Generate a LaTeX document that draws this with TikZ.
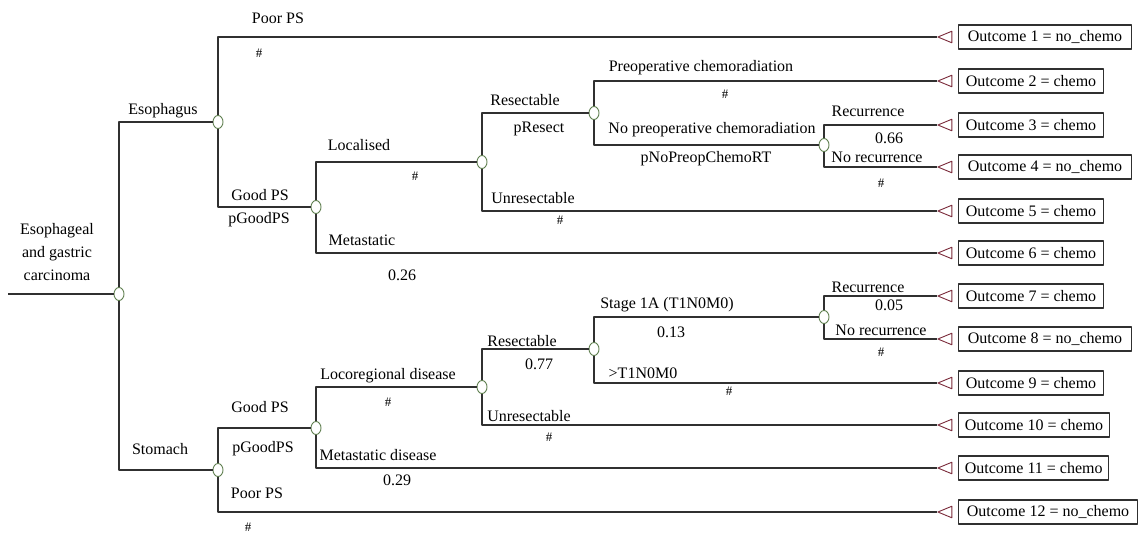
\documentclass[tikz,border=0pt]{standalone}
\usepackage{fontspec}
\setmainfont{Liberation Serif}
\usetikzlibrary{positioning,shapes.geometric}
\definecolor{chancegreen}{HTML}{5F7F4F}
\definecolor{termred}{HTML}{7A2A3A}
\definecolor{branchgray}{HTML}{303030}
\tikzset{
	chance/.style={ellipse,draw=chancegreen,fill=white,line width=0.9pt,minimum width=10pt,minimum height=13pt,inner sep=0pt},
	term/.style={isosceles triangle,shape border rotate=180,isosceles triangle apex angle=45,draw=termred,fill=white,line width=0.9pt,minimum height=14pt,inner sep=0pt},
	outbox/.style={draw=branchgray,line width=1.1pt,minimum height=24pt,inner ysep=0pt},
	lab/.style={inner sep=0pt},
	hash/.style={inner sep=0pt,font=\fontsize{13}{13}\selectfont},
	branch/.style={draw=branchgray,line width=1.2pt}
}
\begin{document}
\begin{tikzpicture}[x=1pt,y=-1pt,line join=round,font=\fontsize{16}{23}\selectfont]
	\useasboundingbox (0,0) rectangle (1140,533);
	\coordinate (start) at (8,294);
	\node[chance] (root) at (119,294) {};
	\node[lab,align=center] (rootlab) at (57,252) {Esophageal\\and gastric\\carcinoma};
	\foreach \i/\y/\res/\pad in {1/37/no\_chemo/9pt,2/81/chemo/7pt,3/125/chemo/7pt,4/167/no\_chemo/9pt,
		5/211/chemo/7pt,6/253/chemo/7pt,7/296/chemo/7pt,8/339/no\_chemo/9pt,
		9/383/chemo/7pt,10/425/chemo/6pt,11/468/chemo/6pt,12/512/no\_chemo/8pt}{
		\node[term] (t\i) at (948,\y) {};
		\node[outbox,inner xsep=\pad,right=6pt of t\i] (o\i) {Outcome \i{} = \res};
	}
	\begin{scope}
		\node[chance] (eso) at (218,122) {};
		\node[chance] (egood) at (316,207) {};
		\node[chance] (eloc) at (482,162) {};
		\node[chance] (eres) at (594,113) {};
		\node[chance] (erec) at (824,145) {};
		\draw[branch] (root) |- (eso);
		\draw[branch] (eso) |- (t1);
		\draw[branch] (eso) |- (egood);
		\draw[branch] (egood) |- (eloc);
		\draw[branch] (egood) |- (t6);
		\draw[branch] (eloc) |- (eres);
		\draw[branch] (eloc) |- (t5);
		\draw[branch] (eres) |- (t2);
		\draw[branch] (eres) |- (erec);
		\draw[branch] (erec) |- (t3);
		\draw[branch] (erec) |- (t4);
		\node[lab] (esolab) at (163,111) {Esophagus};
		\node[lab] (epoorlab) at (278,18) {Poor PS};
		\node[hash] (epoorp) at (259,53) {\#};
		\node[lab] (egoodlab) at (260,195) {Good PS};
		\node[lab] (egoodp) at (259,220) {pGoodPS};
		\node[lab] (eloclab) at (359,145) {Localised};
		\node[hash] (elocp) at (415,176) {\#};
		\node[lab] (emetlab) at (362,240) {Metastatic};
		\node[lab] (emetp) at (402,275) {0.26};
		\node[lab] (ereslab) at (525,100) {Resectable};
		\node[lab] (eresp) at (539,129) {pResect};
		\node[lab] (eunreslab) at (533,198) {Unresectable};
		\node[hash] (eunresp) at (560,220) {\#};
		\node[lab] (epreoplab) at (701,68) {Preoperative chemoradiation};
		\node[hash] (epreopp) at (725,94) {\#};
		\node[lab] (enopreoplab) at (712,130) {No preoperative chemoradiation};
		\node[lab] (enopreopp) at (706,159) {pNoPreopChemoRT};
		\node[lab] (ereclab) at (868,111) {Recurrence};
		\node[lab] (erecp) at (889,138) {0.66};
		\node[lab] (enoreclab) at (877,157) {No recurrence};
		\node[hash] (enorecp) at (881,183) {\#};
	\end{scope}
	\begin{scope}
		\node[chance] (sto) at (218,470) {};
		\node[chance] (sgood) at (316,428) {};
		\node[chance] (sloc) at (482,387) {};
		\node[chance] (sres) at (594,349) {};
		\node[chance] (srec) at (824,317) {};
		\draw[branch] (root) |- (sto);
		\draw[branch] (sto) |- (sgood);
		\draw[branch] (sto) |- (t12);
		\draw[branch] (sgood) |- (sloc);
		\draw[branch] (sgood) |- (t11);
		\draw[branch] (sloc) |- (sres);
		\draw[branch] (sloc) |- (t10);
		\draw[branch] (sres) |- (srec);
		\draw[branch] (sres) |- (t9);
		\draw[branch] (srec) |- (t7);
		\draw[branch] (srec) |- (t8);
		\node[lab] (stolab) at (160,449) {Stomach};
		\node[lab] (sgoodlab) at (260,407) {Good PS};
		\node[lab] (sgoodp) at (263,449) {pGoodPS};
		\node[lab] (spoorlab) at (257,493) {Poor PS};
		\node[hash] (spoorp) at (248,527) {\#};
		\node[lab] (sloclab) at (388,376) {Locoregional disease};
		\node[hash] (slocp) at (388,402) {\#};
		\node[lab] (smetlab) at (378,455) {Metastatic disease};
		\node[lab] (smetp) at (397,480) {0.29};
		\node[lab] (sreslab) at (522,341) {Resectable};
		\node[lab] (sresp) at (539,364) {0.77};
		\node[lab] (sunreslab) at (529,416) {Unresectable};
		\node[hash] (sunresp) at (549,437) {\#};
		\node[lab] (sstagelab) at (667,305) {Stage 1A (T1N0M0)};
		\node[lab] (sstagep) at (671,332) {0.13};
		\node[lab] (shighlab) at (643,373) {>T1N0M0};
		\node[hash] (shighp) at (729,391) {\#};
		\node[lab] (sreclab) at (868,287) {Recurrence};
		\node[lab] (srecp) at (889,305) {0.05};
		\node[lab] (snoreclab) at (881,330) {No recurrence};
		\node[hash] (snorecp) at (881,352) {\#};
	\end{scope}
	\draw[branch] (start) -- (root);
\end{tikzpicture}
\end{document}
